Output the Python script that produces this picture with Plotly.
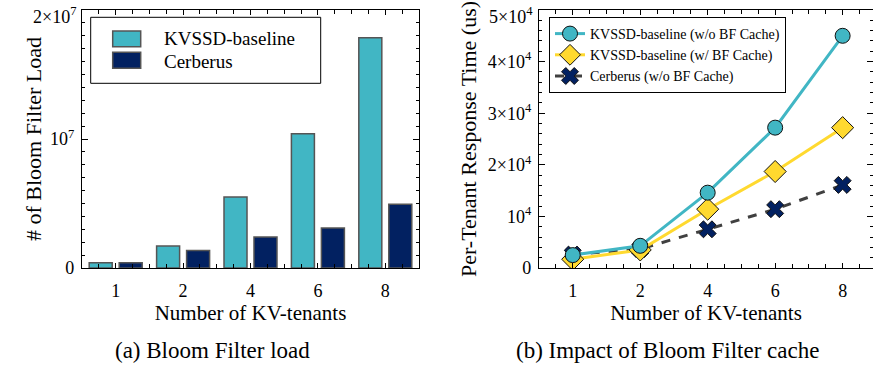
import plotly.graph_objects as go

# ---------------- data ----------------
tenants = ["1", "2", "4", "6", "8"]
bf_load_kvssd = [4.0e5, 1.7e6, 5.5e6, 1.04e7, 1.785e7]
bf_load_cerberus = [4.0e5, 1.35e6, 2.4e6, 3.1e6, 4.95e6]

rt_kvssd_nocache = [2.5e3, 4.3e3, 1.46e4, 2.72e4, 4.5e4]
rt_kvssd_cache = [1.7e3, 3.5e3, 1.14e4, 1.87e4, 2.72e4]
rt_cerberus_nocache = [2.6e3, 3.7e3, 7.5e3, 1.14e4, 1.61e4]

left_ytick_vals = [0, 1e7, 2e7]
left_ytick_text = ["0", "10<sup>7</sup>", "2×10<sup>7</sup>"]
right_ytick_vals = [0, 1e4, 2e4, 3e4, 4e4, 5e4]
right_ytick_text = ["0", "10<sup>4</sup>", "2×10<sup>4</sup>", "3×10<sup>4</sup>",
                    "4×10<sup>4</sup>", "5×10<sup>4</sup>"]

CYAN = "#41B6C4"
NAVY = "#022161"
YELLOW = "#FFD92F"
FONT = "Liberation Serif, Times New Roman, Tinos, DejaVu Serif, serif"

W, H = 873, 368
xpos = list(range(len(tenants)))

fig = go.Figure()

# ---------------- left: bars ----------------
fig.add_trace(go.Bar(x=xpos, y=bf_load_kvssd, name="KVSSD-baseline",
                     marker=dict(color=CYAN, line=dict(color="#555555", width=1.5)),
                     xaxis="x", yaxis="y", showlegend=False))
fig.add_trace(go.Bar(x=xpos, y=bf_load_cerberus, name="Cerberus",
                     marker=dict(color=NAVY, line=dict(color="#555555", width=1.5)),
                     xaxis="x", yaxis="y", showlegend=False))

# ---------------- right: lines ----------------
fig.add_trace(go.Scatter(x=xpos, y=rt_cerberus_nocache, name="Cerberus (w/o BF Cache)",
                         mode="lines+markers", xaxis="x2", yaxis="y2", legendrank=3,
                         line=dict(color="#404040", width=3, dash="dash"),
                         marker=dict(symbol="x", size=15, color=NAVY,
                                     line=dict(color="#111111", width=1))))
fig.add_trace(go.Scatter(x=xpos, y=rt_kvssd_cache, name="KVSSD-baseline (w/ BF Cache)",
                         mode="lines+markers", xaxis="x2", yaxis="y2", legendrank=2,
                         line=dict(color=YELLOW, width=3),
                         marker=dict(symbol="diamond", size=17, color=YELLOW,
                                     line=dict(color="#111111", width=1))))
fig.add_trace(go.Scatter(x=xpos, y=rt_kvssd_nocache, name="KVSSD-baseline (w/o BF Cache)",
                         mode="lines+markers", xaxis="x2", yaxis="y2", legendrank=1,
                         line=dict(color=CYAN, width=3),
                         marker=dict(symbol="circle", size=15, color=CYAN,
                                     line=dict(color="#111111", width=1))))

y_dom = [(H - 268) / H, (H - 10) / H]

def xax(domain, rng, title_text, anchor):
    return dict(domain=domain, range=rng, anchor=anchor, automargin=False,
                tickmode="array", tickvals=xpos, ticktext=tenants,
                ticks="inside", ticklen=5, tickcolor="black", tickwidth=1,
                showline=True, linecolor="black", linewidth=1.2, mirror="allticks",
                showgrid=False, zeroline=False, ticklabelstandoff=6,
                ticklabeloverflow="allow",
                minor=dict(dtick=0.25, tick0=0, ticks="inside", ticklen=4,
                           tickcolor="black", showgrid=False),
                tickfont=dict(family=FONT, size=18, color="black"),
                title=dict(text=title_text, standoff=4,
                           font=dict(family=FONT, size=21, color="black")))

def yax(anchor, rng, vals, text, mdt, title_text, standoff):
    # the topmost label is drawn slightly lowered (as in the reference) via an annotation
    shown = list(text[:-1]) + [""]
    return dict(domain=y_dom, range=rng, anchor=anchor, automargin=False,
                tickmode="array", tickvals=vals, ticktext=shown,
                ticks="inside", ticklen=6, tickcolor="black", tickwidth=1,
                showline=True, linecolor="black", linewidth=1.2, mirror="allticks",
                showgrid=False, zeroline=False, ticklabelstandoff=3,
                ticklabeloverflow="allow",
                minor=dict(dtick=mdt, tick0=0, ticks="inside", ticklen=3,
                           tickcolor="black", showgrid=False),
                tickfont=dict(family=FONT, size=18, color="black"),
                title=dict(text=title_text, standoff=standoff,
                           font=dict(family=FONT, size=22, color="black")))

fig.update_layout(
    width=W, height=H, margin=dict(l=0, r=0, t=0, b=0, autoexpand=False),
    paper_bgcolor="white", plot_bgcolor="white",
    barmode="group", bargap=0.11, bargroupgap=0.233,
    xaxis=xax([82 / W, 419 / W], [-0.5, 4.5], "Number of KV-tenants", "y"),
    yaxis=yax("x", [0, 2e7], left_ytick_vals, left_ytick_text, 1e6,
              "# of Bloom Filter Load", 2),
    xaxis2=xax([539 / W, 1.0], [-0.5, 4.45], "Number of KV-tenants", "y2"),
    yaxis2=yax("x2", [0, 5e4], right_ytick_vals, right_ytick_text, 2000,
               "Per-Tenant Response Time (us)", 5),
    legend=dict(x=549 / W, y=1 - 17 / H, xanchor="left", yanchor="top",
                bgcolor="white", bordercolor="black", borderwidth=1,
                font=dict(family=FONT, size=14, color="black"),
                itemwidth=30, tracegroupgap=0, traceorder="normal"),
    font=dict(family=FONT, color="black"),
)

# ---------------- left legend (drawn box with swatches) ----------------
def px(x):
    return x / W

def py(y):
    return 1 - y / H

shapes = [
    dict(type="rect", xref="paper", yref="paper", x0=px(90.7), x1=px(320.7),
         y0=py(83.3), y1=py(17.3), line=dict(color="black", width=1), fillcolor="white",
         layer="above"),
    dict(type="rect", xref="paper", yref="paper", x0=px(112.7), x1=px(140.7),
         y0=py(46.7), y1=py(31), line=dict(color="#555555", width=1.5), fillcolor=CYAN,
         layer="above"),
    dict(type="rect", xref="paper", yref="paper", x0=px(112.7), x1=px(140.7),
         y0=py(68.3), y1=py(52.3), line=dict(color="#555555", width=1.5), fillcolor=NAVY,
         layer="above"),
]
fig.update_layout(shapes=shapes)

annotations = [
    dict(text="KVSSD-baseline", x=px(162), y=py(39), xref="paper", yref="paper",
         xanchor="left", yanchor="middle", showarrow=False,
         font=dict(family=FONT, size=19, color="black")),
    dict(text="Cerberus", x=px(162), y=py(61), xref="paper", yref="paper",
         xanchor="left", yanchor="middle", showarrow=False,
         font=dict(family=FONT, size=19, color="black")),
    dict(text="(a) Bloom Filter load", x=px(212), y=py(350), xref="paper", yref="paper",
         xanchor="center", yanchor="middle", showarrow=False,
         font=dict(family=FONT, size=23, color="black")),
    dict(text="(b) Impact of Bloom Filter cache", x=px(667), y=py(350), xref="paper",
         yref="paper", xanchor="center", yanchor="middle", showarrow=False,
         font=dict(family=FONT, size=23, color="black")),
    # topmost y tick labels, tied to the axis top, nudged down to stay inside the figure
    dict(text=left_ytick_text[-1], x=0, y=1, xref="x domain", yref="y domain",
         xanchor="right", yanchor="middle", xshift=-4, yshift=-5, showarrow=False,
         font=dict(family=FONT, size=18, color="black")),
    dict(text=right_ytick_text[-1], x=0, y=1, xref="x2 domain", yref="y2 domain",
         xanchor="right", yanchor="middle", xshift=-4, yshift=-5, showarrow=False,
         font=dict(family=FONT, size=18, color="black")),
]
fig.update_layout(annotations=annotations)

fig.write_html("out.html")
